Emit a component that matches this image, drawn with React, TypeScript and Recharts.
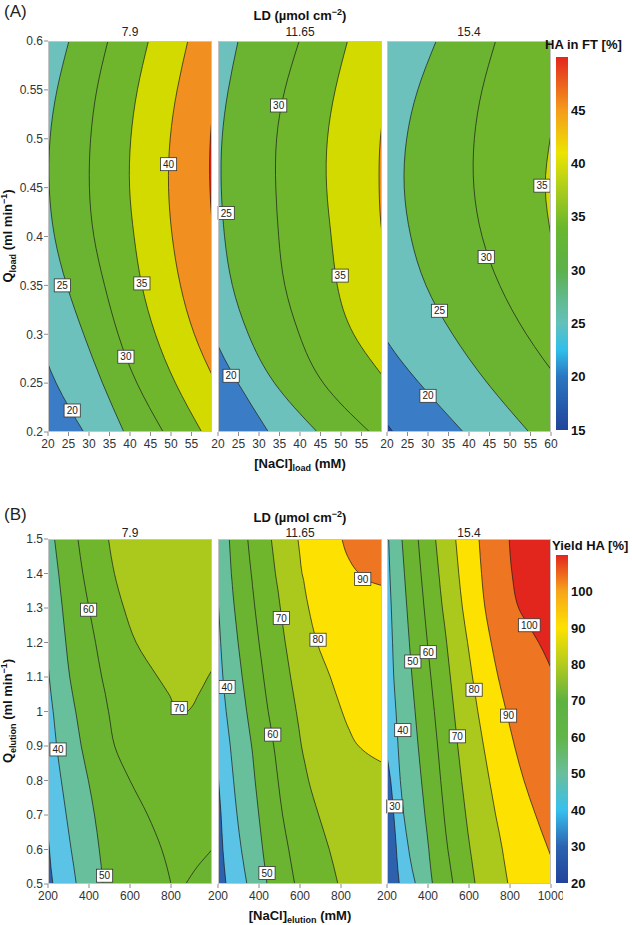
import React from "react";
import { ComposedChart, Area, XAxis, YAxis, CartesianGrid, ReferenceDot, BarChart, Bar } from "recharts";

const FONT = '"Liberation Sans", Arial, Helvetica, sans-serif';

// ---------- (A) HA in FT ----------
const qLoad = [0.2, 0.25, 0.3, 0.35, 0.4, 0.45, 0.5, 0.55, 0.6];
const qLoadTicks = [0.2, 0.25, 0.3, 0.35, 0.4, 0.45, 0.5, 0.55, 0.6];
const naclLoadTicks = [20, 25, 30, 35, 40, 45, 50, 55];
const naclLoadTicksLast = [20, 25, 30, 35, 40, 45, 50, 55, 60];
const naclLoadDomain = [20, 60];
const qLoadDomain = [0.2, 0.6];
const ldLevels = ["7.9", "11.65", "15.4"];

// contour position ([NaCl] mM) at each qLoad, LD 7.9
const a1c20 = [28.7, 22.0, 17.5, 14.5, 13.0, 12.5, 13.0, 14.5, 17.0];
const a1c25 = [38.5, 33.3, 28.7, 24.6, 21.6, 20.3, 20.5, 22.2, 25.1];
const a1c30 = [48.1, 41.7, 37.1, 33.8, 31.2, 30.1, 30.4, 31.9, 34.6];
const a1c35 = [57.5, 51.1, 46.2, 42.9, 41.0, 39.9, 40.2, 41.8, 44.5];
const a1c40 = [67.5, 61.0, 55.7, 52.3, 50.3, 49.4, 49.8, 51.5, 54.1];
const a1c45 = [80, 72, 66, 62.5, 60.4, 59.5, 59.6, 61, 64];
// LD 11.65
const a2c20 = [32.3, 24.9, 18.8, 15.5, 14.0, 13.5, 14.0, 15.5, 18.0];
const a2c25 = [44.2, 33.8, 27.4, 23.5, 21.6, 20.8, 21.0, 22.5, 24.9];
const a2c30 = [57.0, 45.7, 39.8, 36.3, 34.8, 34.1, 34.3, 36.3, 39.8];
const a2c35 = [70, 61.5, 53.1, 49.1, 47.6, 46.5, 46.7, 48.6, 51.6];
const a2c40 = [85, 75, 68, 63, 60.1, 59.3, 59.6, 61.5, 65];
// LD 15.4
const a3c15 = [21.5, 13, 8, 5, 4, 3.5, 4, 5, 7];
const a3c20 = [38.6, 27.9, 19.0, 14.0, 11.0, 10.0, 10.5, 12.0, 15.0];
const a3c25 = [54.6, 44.5, 36.0, 29.5, 25.8, 24.2, 24.8, 27.5, 32.0];
const a3c30 = [72, 62.5, 54, 47.5, 43.2, 41.2, 41.3, 43.2, 46.5];
const a3c35 = [80, 72, 66, 62, 60.0, 58.6, 59.8, 62, 66];

const a1Labels = [
  { x: 25.9, q: 0.222, t: "20" },
  { x: 23.5, q: 0.35, t: "25" },
  { x: 39, q: 0.277, t: "30" },
  { x: 42.9, q: 0.352, t: "35" },
  { x: 49.4, q: 0.474, t: "40" },
];
const a2Labels = [
  { x: 23.2, q: 0.2575, t: "20" },
  { x: 22, q: 0.424, t: "25" },
  { x: 34.8, q: 0.534, t: "30" },
  { x: 49.8, q: 0.36, t: "35" },
];
const a3Labels = [
  { x: 30, q: 0.237, t: "20" },
  { x: 32.8, q: 0.324, t: "25" },
  { x: 44.2, q: 0.379, t: "30" },
  { x: 57.8, q: 0.452, t: "35" },
];

const haRange = [15, 50];
const haTicks = [15, 20, 25, 30, 35, 40, 45];
const haStops = [
  { v: 50, c: "#e3261e" }, { v: 45, c: "#f59c1b" }, { v: 41, c: "#ece400" },
  { v: 37.5, c: "#a9cc1c" }, { v: 34, c: "#6ab72e" }, { v: 30, c: "#5cb14a" },
  { v: 27, c: "#62bb95" }, { v: 25, c: "#62c1bb" }, { v: 22.5, c: "#2fbfea" },
  { v: 20, c: "#2b76c1" }, { v: 15, c: "#21449a" },
];

// ---------- (B) Yield HA ----------
const qElutionTicks = [0.5, 0.6, 0.7, 0.8, 0.9, 1, 1.1, 1.2, 1.3, 1.4, 1.5];
const naclElTicks = [200, 400, 600, 800];
const naclElTicksLast = [200, 400, 600, 800, 1000];
const naclElDomain = [200, 1000];
const qElDomain = [0.5, 1.5];

// LD 7.9
const qB1 = [0.5, 0.55, 0.6, 0.7, 0.8, 0.9, 0.99, 1.0, 1.05, 1.1, 1.2, 1.3, 1.4, 1.5];
const b1c30 = [224, 214, 207, 190, 172, 152, 134, 132, 122, 112, 92, 72, 52, 32];
const b1c40 = [338, 326, 313, 289, 265, 242, 227, 225, 215, 206, 192, 175, 158, 140];
const b1c50 = [467, 460, 450, 427, 397, 362, 338, 335, 320, 306, 287, 270, 252, 232];
const b1c60L = [800, 780, 755, 686, 600, 525, 498, 495, 480, 462, 432, 400, 370, 346];
const b1c60R = [872, 928, 1000, 1120, 1250, 1380, 1490, 1500, 1560, 1620, 1740, 1860, 1980, 2100];
const b1c70L = [null, null, null, null, null, null, 858, 838, 790, 735, 630, 570, 524, 495];
const b1c70R = [null, null, null, null, null, null, 858, 880, 935, 980, 1080, 1160, 1240, 1320];

// LD 11.65
const qB2 = [0.5, 0.6, 0.7, 0.8, 0.85, 0.875, 0.9, 0.95, 1.0, 1.1, 1.2, 1.3, 1.35, 1.365, 1.38, 1.4, 1.45, 1.5];
const b2c30 = [239, 224, 215, 203, 197, 194, 190, 184, 178, 165, 150, 135, 128, 126, 124, 121, 113, 105];
const b2c40 = [341, 314, 293, 276, 268, 264, 260, 250, 240, 224, 213, 203, 199, 198, 196, 194, 188, 182];
const b2c50 = [439, 418, 399, 381, 373, 369, 364, 352, 340, 318, 298, 280, 272, 270, 268, 265, 260, 255];
const b2c60 = [574, 545, 515, 493, 483, 478, 472, 459, 445, 422, 400, 380, 371, 368, 366, 362, 353, 345];
const b2c70 = [785, 743, 691, 642, 624, 615, 607, 595, 582, 554, 528, 504, 493, 489, 485, 480, 470, 460];
const b2c80 = [1900, 1700, 1500, 1250, 1010, 935, 886, 838, 805, 748, 683, 642, 626, 622, 618, 610, 600, 590];
const b2c90 = [3000, 2800, 2600, 2400, 2300, 2250, 2200, 2100, 2000, 1800, 1600, 1300, 1100, 1000, 925, 888, 832, 805];

// LD 15.4
const qB3 = [0.5, 0.58, 0.6, 0.7, 0.8, 0.9, 1.0, 1.1, 1.2, 1.25, 1.3, 1.4, 1.5];
const b3c30 = [260, 248, 246, 233, 218, 192, 165, 140, 115, 103, 90, 65, 40];
const b3c40 = [339, 311, 306, 282, 265, 254, 244, 233, 227, 224, 221, 214, 208];
const b3c50 = [422, 407, 404, 385, 368, 352, 337, 322, 309, 303, 297, 285, 273];
const b3c60 = [522, 502, 497, 478, 462, 447, 431, 414, 397, 389, 381, 366, 352];
const b3c70 = [630, 611, 606, 584, 564, 545, 527, 509, 491, 481, 470, 453, 437];
const b3c80 = [790, 768, 763, 730, 700, 671, 643, 617, 593, 580, 568, 550, 535];
const b3c90 = [1060, 1000, 987, 925, 868, 822, 782, 742, 708, 692, 678, 661, 649];
const b3c100 = [1600, 1500, 1460, 1350, 1250, 1170, 1100, 1020, 940, 890, 842, 810, 796];

const b1Labels = [
  { x: 249, q: 0.89, t: "40" },
  { x: 476, q: 0.524, t: "50" },
  { x: 398, q: 1.295, t: "60" },
  { x: 840, q: 1.01, t: "70" },
];
const b2Labels = [
  { x: 244, q: 1.071, t: "40" },
  { x: 439, q: 0.532, t: "50" },
  { x: 467, q: 0.933, t: "60" },
  { x: 509, q: 1.271, t: "70" },
  { x: 688, q: 1.208, t: "80" },
  { x: 906, q: 1.384, t: "90" },
];
const b3Labels = [
  { x: 238, q: 0.725, t: "30" },
  { x: 277, q: 0.946, t: "40" },
  { x: 326, q: 1.145, t: "50" },
  { x: 401, q: 1.172, t: "60" },
  { x: 543, q: 0.928, t: "70" },
  { x: 625, q: 1.063, t: "80" },
  { x: 793, q: 0.988, t: "90" },
  { x: 894, q: 1.25, t: "100" },
];

const yieldRange = [20, 110];
const yieldTicks = [20, 30, 40, 50, 60, 70, 80, 90, 100];
const yieldStops = [
  { v: 110, c: "#e3261e" }, { v: 100, c: "#f7a51a" }, { v: 90, c: "#fde200" },
  { v: 80, c: "#b3cb1e" }, { v: 70, c: "#5eb241" }, { v: 60, c: "#62b548" },
  { v: 50, c: "#6abe9c" }, { v: 40, c: "#36c0ee" }, { v: 30, c: "#2c63b0" },
  { v: 20, c: "#21439a" },
];

// band colours
const NAVY = "#23489c";
const BLUE = "#3a7cc5";
const TEAL = "#6cc1bd";
const GREEN1 = "#6bb432";
const GREEN2 = "#6fb62c";
const YELLOW_A = "#d3da00";
const ORANGE_A = "#f28f21";
const RED = "#e2261e";
const DARKBLUE_B = "#2e61ad";
const SKY = "#5ac3e6";
const SEA = "#68bf9c";
const OLIVE = "#abc81c";
const YELLOW_B = "#fde100";
const ORANGE_B = "#ee7521";

type Layer = { fill: string; key?: string; lo?: string; hi?: string };
type Lab = { x: number; q: number; t: string };

function table(q: number[], cols: Record<string, (number | null)[]>) {
  return q.map((v, i) => {
    const r: any = { q: v };
    Object.keys(cols).forEach((k) => (r[k] = cols[k][i]));
    return r;
  });
}

function LabelBox({ cx, cy, text }: { cx: number; cy: number; text: string }) {
  const w = text.length * 5.6 + 5;
  return (
    <g>
      <rect x={cx - w / 2} y={cy - 6.5} width={w} height={13} fill="#fff" stroke="#333" strokeWidth={0.8} />
      <text x={cx} y={cy + 3.6} textAnchor="middle" fontSize={10} fontFamily={FONT} fill="#222">
        {text}
      </text>
    </g>
  );
}

const tickStyle = { fill: "#333", fontSize: 12, fontFamily: FONT };

// room around each facet so edge tick labels are not clipped
const PAD_T = 8;
const PAD_X = 12;

function Facet(props: {
  rows: any[];
  bg: string;
  layers: Layer[];
  labels: Lab[];
  xDomain: number[];
  xTicks: number[];
  yDomain: number[];
  yTicks: number[];
  showY: boolean;
  left: number;
  top: number;
  plotH: number;
  curve: "natural" | "monotone";
}) {
  const { rows, bg, layers, labels, xDomain, xTicks, yDomain, yTicks, showY, left, top, plotH, curve } = props;
  const yW = showY ? 40 : 0;
  const padL = showY ? 0 : PAD_X;
  return (
    <div style={{ position: "absolute", left: left - yW - padL, top: top - PAD_T }}>
      <ComposedChart
        layout="vertical"
        width={164 + yW + padL + PAD_X}
        height={plotH + 22 + PAD_T}
        data={rows}
        margin={{ top: PAD_T, right: PAD_X, bottom: 0, left: padL }}
      >
        <CartesianGrid horizontal={false} vertical={false} fill={bg} fillOpacity={1} />
        <XAxis
          type="number"
          domain={xDomain}
          allowDataOverflow
          ticks={xTicks}
          interval={0}
          axisLine={false}
          tickSize={4}
          tickMargin={3}
          tickLine={{ stroke: "#8c8c8c" }}
          tick={tickStyle}
          height={22}
        />
        <YAxis
          type="number"
          dataKey="q"
          domain={yDomain}
          allowDataOverflow
          reversed
          ticks={yTicks}
          interval={0}
          hide={!showY}
          width={40}
          axisLine={false}
          tickSize={4}
          tickMargin={1}
          tickLine={{ stroke: "#8c8c8c" }}
          tick={tickStyle}
        />
        {layers.map((l, i) => (
          <Area
            key={i}
            type={curve}
            dataKey={l.key ? l.key : (r: any) => [r[l.lo as string], r[l.hi as string]]}
            baseValue="dataMax"
            fill={l.fill}
            fillOpacity={1}
            stroke="#1a1a1a"
            strokeWidth={0.7}
            dot={false}
            activeDot={false}
            isAnimationActive={false}
          />
        ))}
        {labels.map((lb, i) => (
          <ReferenceDot
            key={"l" + i}
            x={lb.x}
            y={lb.q}
            r={0}
            shape={(p: any) => <LabelBox cx={p.cx} cy={p.cy} text={lb.t} />}
          />
        ))}
      </ComposedChart>
      <div
        style={{
          position: "absolute",
          left: yW + padL,
          top: PAD_T,
          width: 164,
          height: plotH,
          border: "1px solid #c4c4c4",
          boxSizing: "border-box",
          pointerEvents: "none",
        }}
      />
    </div>
  );
}

function ColorBar(props: {
  id: string;
  stops: { v: number; c: string }[];
  range: number[];
  ticks: number[];
  top: number;
  height: number;
}) {
  const { id, stops, range, ticks, top, height } = props;
  const span = range[1] - range[0];
  return (
    <div style={{ position: "absolute", left: 556, top: top - PAD_T }}>
      <BarChart
        width={48}
        height={height + 2 * PAD_T}
        data={[{ k: id, v: range }]}
        margin={{ top: PAD_T, right: 0, bottom: PAD_T, left: 0 }}
        barCategoryGap={0}
      >
        <defs>
          <linearGradient id={id} x1="0" y1="0" x2="0" y2="1">
            {stops.map((s, i) => (
              <stop key={i} offset={(range[1] - s.v) / span} stopColor={s.c} />
            ))}
          </linearGradient>
        </defs>
        <XAxis dataKey="k" hide />
        <YAxis
          orientation="right"
          type="number"
          domain={range}
          ticks={ticks}
          interval={0}
          width={36}
          axisLine={false}
          tickLine={false}
          tickSize={0}
          tickMargin={3}
          tick={{ fill: "#111", fontSize: 13, fontWeight: 700, fontFamily: FONT }}
        />
        <Bar dataKey="v" fill={`url(#${id})`} isAnimationActive={false} />
      </BarChart>
    </div>
  );
}

const plotLefts = [48, 218, 387];

function Txt({ x, y, children, style }: { x: number; y: number; children: React.ReactNode; style?: React.CSSProperties }) {
  return (
    <div
      style={{
        position: "absolute",
        left: x,
        top: y,
        transform: "translate(-50%, -50%)",
        whiteSpace: "nowrap",
        lineHeight: 1,
        ...style,
      }}
    >
      {children}
    </div>
  );
}

const bold: React.CSSProperties = { fontWeight: 700, fontSize: 13, color: "#111" };
const small: React.CSSProperties = { fontSize: 9 };

export default function App() {
  const aRows = [
    table(qLoad, { c20: a1c20, c25: a1c25, c30: a1c30, c35: a1c35, c40: a1c40, c45: a1c45 }),
    table(qLoad, { c20: a2c20, c25: a2c25, c30: a2c30, c35: a2c35, c40: a2c40 }),
    table(qLoad, { c15: a3c15, c20: a3c20, c25: a3c25, c30: a3c30, c35: a3c35 }),
  ];
  const aLayers: Layer[][] = [
    [
      { key: "c20", fill: TEAL }, { key: "c25", fill: GREEN1 }, { key: "c30", fill: GREEN2 },
      { key: "c35", fill: YELLOW_A }, { key: "c40", fill: ORANGE_A }, { key: "c45", fill: RED },
    ],
    [
      { key: "c20", fill: TEAL }, { key: "c25", fill: GREEN1 }, { key: "c30", fill: GREEN2 },
      { key: "c35", fill: YELLOW_A }, { key: "c40", fill: ORANGE_A },
    ],
    [
      { key: "c15", fill: BLUE }, { key: "c20", fill: TEAL }, { key: "c25", fill: GREEN1 },
      { key: "c30", fill: GREEN2 }, { key: "c35", fill: YELLOW_A },
    ],
  ];
  const aBg = [BLUE, BLUE, NAVY];
  const aLabels = [a1Labels, a2Labels, a3Labels];

  const bRows = [
    table(qB1, { c30: b1c30, c40: b1c40, c50: b1c50, c60L: b1c60L, c60R: b1c60R, c70L: b1c70L, c70R: b1c70R }),
    table(qB2, { c30: b2c30, c40: b2c40, c50: b2c50, c60: b2c60, c70: b2c70, c80: b2c80, c90: b2c90 }),
    table(qB3, { c30: b3c30, c40: b3c40, c50: b3c50, c60: b3c60, c70: b3c70, c80: b3c80, c90: b3c90, c100: b3c100 }),
  ];
  const bLayers: Layer[][] = [
    [
      { key: "c30", fill: SKY }, { key: "c40", fill: SEA }, { key: "c50", fill: GREEN1 },
      { lo: "c60L", hi: "c60R", fill: GREEN2 }, { lo: "c70L", hi: "c70R", fill: OLIVE },
    ],
    [
      { key: "c30", fill: SKY }, { key: "c40", fill: SEA }, { key: "c50", fill: GREEN1 },
      { key: "c60", fill: GREEN2 }, { key: "c70", fill: OLIVE }, { key: "c80", fill: YELLOW_B },
      { key: "c90", fill: ORANGE_B },
    ],
    [
      { key: "c30", fill: SKY }, { key: "c40", fill: SEA }, { key: "c50", fill: GREEN1 },
      { key: "c60", fill: GREEN2 }, { key: "c70", fill: OLIVE }, { key: "c80", fill: YELLOW_B },
      { key: "c90", fill: ORANGE_B }, { key: "c100", fill: RED },
    ],
  ];
  const bLabels = [b1Labels, b2Labels, b3Labels];

  return (
    <div
      style={{
        position: "absolute",
        left: 0,
        top: 0,
        width: 632,
        height: 925,
        background: "#fff",
        fontFamily: FONT,
        color: "#222",
        overflow: "hidden",
      }}
    >
      {/* ---- panel A ---- */}
      <div style={{ position: "absolute", left: 4, top: 2, fontSize: 17 }}>(A)</div>
      <Txt x={300} y={15} style={bold}>
        LD (µmol cm<sup style={small}>−2</sup>)
      </Txt>
      {ldLevels.map((ld, i) => (
        <Txt key={"al" + i} x={plotLefts[i] + 82} y={32} style={{ fontSize: 12 }}>
          {ld}
        </Txt>
      ))}
      {[0, 1, 2].map((i) => (
        <Facet
          key={"a" + i}
          rows={aRows[i]}
          bg={aBg[i]}
          layers={aLayers[i]}
          labels={aLabels[i]}
          xDomain={naclLoadDomain}
          xTicks={i === 2 ? naclLoadTicksLast : naclLoadTicks}
          yDomain={qLoadDomain}
          yTicks={qLoadTicks}
          showY={i === 0}
          left={plotLefts[i]}
          top={41}
          plotH={391}
          curve="natural"
        />
      ))}
      <div style={{ position: "absolute", left: 545, top: 37, ...bold }}>HA in FT [%]</div>
      <ColorBar id="gradHA" stops={haStops} range={haRange} ticks={haTicks} top={57} height={373} />
      <Txt x={300} y={465} style={bold}>
        [NaCl]<sub style={small}>load</sub> (mM)
      </Txt>
      <Txt x={9} y={236} style={{ ...bold, transform: "translate(-50%, -50%) rotate(-90deg)" }}>
        Q<sub style={small}>load</sub> (ml min<sup style={small}>−1</sup>)
      </Txt>

      {/* ---- panel B ---- */}
      <div style={{ position: "absolute", left: 4, top: 505, fontSize: 17 }}>(B)</div>
      <Txt x={300} y={517} style={bold}>
        LD (µmol cm<sup style={small}>−2</sup>)
      </Txt>
      {ldLevels.map((ld, i) => (
        <Txt key={"bl" + i} x={plotLefts[i] + 82} y={533} style={{ fontSize: 12 }}>
          {ld}
        </Txt>
      ))}
      {[0, 1, 2].map((i) => (
        <Facet
          key={"b" + i}
          rows={bRows[i]}
          bg={DARKBLUE_B}
          layers={bLayers[i]}
          labels={bLabels[i]}
          xDomain={naclElDomain}
          xTicks={i === 2 ? naclElTicksLast : naclElTicks}
          yDomain={qElDomain}
          yTicks={qElutionTicks}
          showY={i === 0}
          left={plotLefts[i]}
          top={539}
          plotH={345}
          curve="monotone"
        />
      ))}
      <div style={{ position: "absolute", left: 552, top: 538, ...bold }}>Yield HA [%]</div>
      <ColorBar id="gradYield" stops={yieldStops} range={yieldRange} ticks={yieldTicks} top={555} height={328} />
      <Txt x={300} y={917} style={bold}>
        [NaCl]<sub style={small}>elution</sub> (mM)
      </Txt>
      <Txt x={9} y={711} style={{ ...bold, transform: "translate(-50%, -50%) rotate(-90deg)" }}>
        Q<sub style={small}>elution</sub> (ml min<sup style={small}>−1</sup>)
      </Txt>
    </div>
  );
}
